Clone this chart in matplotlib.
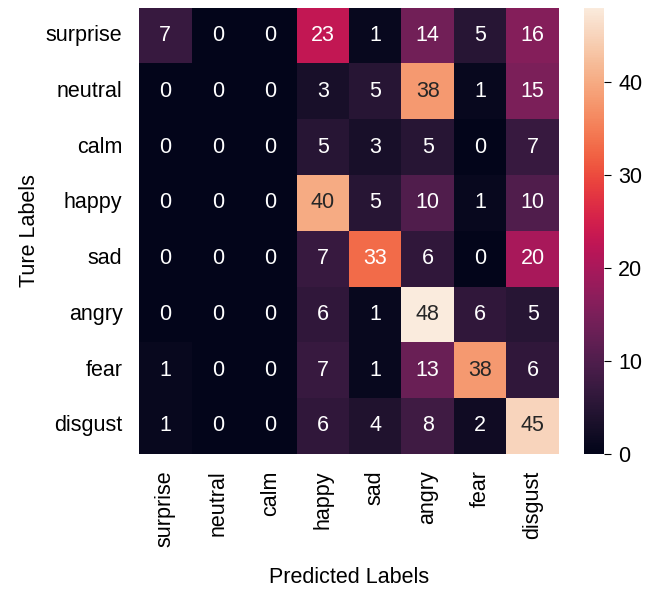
import numpy as np
import matplotlib.pyplot as plt
import seaborn as sns

emotions = ["surprise", "neutral", "calm", "happy", "sad", "angry", "fear", "disgust"]

# rows = true label, columns = predicted label
row_surprise = [7, 0, 0, 23, 1, 14, 5, 16]
row_neutral = [0, 0, 0, 3, 5, 38, 1, 15]
row_calm = [0, 0, 0, 5, 3, 5, 0, 7]
row_happy = [0, 0, 0, 40, 5, 10, 1, 10]
row_sad = [0, 0, 0, 7, 33, 6, 0, 20]
row_angry = [0, 0, 0, 6, 1, 48, 6, 5]
row_fear = [1, 0, 0, 7, 1, 13, 38, 6]
row_disgust = [1, 0, 0, 6, 4, 8, 2, 45]

cm = np.array([row_surprise, row_neutral, row_calm, row_happy,
               row_sad, row_angry, row_fear, row_disgust])

plt.rcParams['font.family'] = ['Liberation Sans', 'DejaVu Sans']

fig = plt.figure(figsize=(6.56, 5.94), dpi=100)
ax = fig.add_axes([0.212, 0.236, 0.640, 0.751])
cax = fig.add_axes([0.890, 0.236, 0.031, 0.751])

sns.heatmap(cm, annot=True, fmt="d", cmap="rocket", ax=ax, cbar_ax=cax,
            xticklabels=emotions, yticklabels=emotions,
            annot_kws={"size": 15.5})

ax.set_xticklabels(emotions, rotation=90, fontsize=15.5)
ax.set_yticklabels(emotions, rotation=0, fontsize=15.5)
ax.tick_params(axis="y", length=0, pad=12)
ax.tick_params(axis="x", length=0, pad=12)
ax.set_xlabel("Predicted Labels", fontsize=15.5, labelpad=14)
ax.set_ylabel("Ture Labels", fontsize=15.5, labelpad=4)

cax.tick_params(labelsize=15.5, length=5, pad=5)
cax.set_yticks([0, 10, 20, 30, 40])

fig.savefig("out.png", dpi=100)
